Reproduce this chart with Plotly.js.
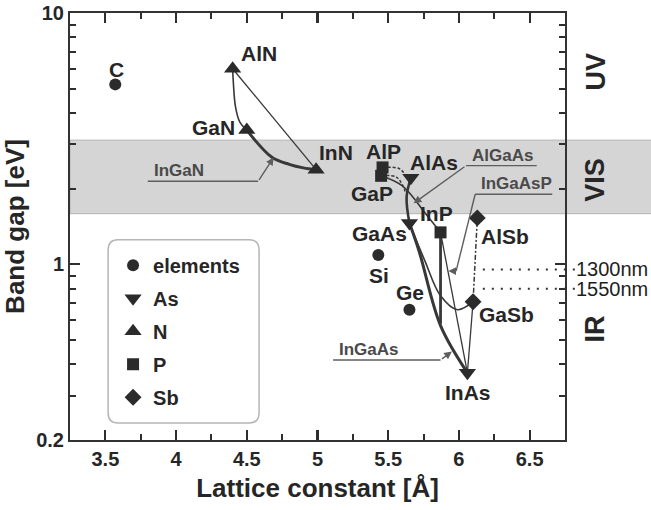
<!DOCTYPE html>
<html>
<head>
<meta charset="utf-8">
<script src="https://cdn.plot.ly/plotly-3.0.1.min.js"></script>
<style>
  html, body { margin: 0; padding: 0; background: #fff; }
  #chart { width: 651px; height: 510px; }
</style>
</head>
<body>
<div id="chart"></div>
<script>
// Band gap versus lattice constant of common semiconductors

// ---- elements and binary compounds, grouped by anion ----
const elemNames = ['C', 'Si', 'Ge'];
const elemA = [3.57, 5.43, 5.65];
const elemEg = [5.2, 1.09, 0.66];

const asNames = ['AlAs', 'GaAs', 'InAs'];
const asA = [5.66, 5.65, 6.06];
const asEg = [2.21, 1.46, 0.37];

const nNames = ['AlN', 'GaN', 'InN'];
const nA = [4.40, 4.50, 4.99];
const nEg = [6.0, 3.42, 2.38];

const pNames = ['AlP', 'GaP', 'InP'];
const pA = [5.46, 5.45, 5.87];
const pEg = [2.43, 2.25, 1.34];

const sbNames = ['AlSb', 'GaSb'];
const sbA = [6.13, 6.10];
const sbEg = [1.53, 0.71];

// ---- alloy curves: end members plus intermediate points ----
const alnInnA = [4.40, 4.99];
const alnInnEg = [6.0, 2.38];
const alnGanA = [4.40, 4.405, 4.42, 4.45, 4.50];
const alnGanEg = [6.0, 5.28, 4.24, 3.69, 3.42];
const inGaNA = [4.50, 4.68, 4.80, 4.90, 4.99];
const inGaNEg = [3.42, 2.66, 2.50, 2.42, 2.38];

const alpAlasA = [5.46, 5.58, 5.63];
const alpAlasEg = [2.43, 2.40, 2.22];
const gapGaasA = [5.45, 5.56, 5.62];
const gapGaasEg = [2.25, 2.22, 1.95];
const alGaAsA = [5.66, 5.63, 5.65];
const alGaAsEg = [2.21, 1.85, 1.46];
const gapInpA = [5.45, 5.60, 5.78, 5.87];
const gapInpEg = [2.25, 2.05, 1.55, 1.34];
const inpInasA = [5.87, 6.06];
const inpInasEg = [1.34, 0.37];
const inpMatchedA = [5.87, 5.87];
const inpMatchedEg = [1.34, 0.58];
const inGaAsA = [5.65, 5.72, 5.87, 6.06];
const inGaAsEg = [1.46, 1.12, 0.57, 0.37];
const gaasGasbA = [5.65, 5.76, 5.87, 5.99, 6.10];
const gaasGasbEg = [1.46, 1.03, 0.75, 0.66, 0.71];
const gasbInasA = [6.10, 6.06];
const gasbInasEg = [0.71, 0.37];
const alsbGasbA = [6.13, 6.10];
const alsbGasbEg = [1.53, 0.71];

// ---- spectral ranges ----
const visibleEg = [1.59, 3.12];
const telecomNames = ['1300nm', '1550nm'];
const telecomEg = [0.954, 0.80];
const regionNames = ['UV', 'VIS', 'IR'];
const regionEg = [5.85, 2.17, 0.55];

// ---- axis ticks ----
const xTicks = [3.5, 4, 4.5, 5, 5.5, 6, 6.5];
const xMinor = [3.25, 3.75, 4.25, 4.75, 5.25, 5.75, 6.25, 6.75];
const yTicks = [0.2, 1, 10];
const yTickText = ['0.2', '1', '10'];
const yMinor = [0.3, 0.4, 0.5, 0.6, 0.7, 0.8, 0.9, 2, 3, 4, 5, 6, 7, 8, 9];

const FONT = 'Liberation Sans, Arial, Helvetica, sans-serif';
const INK = '#262626';
const LINE = '#383838';
const LEAD = '#5e5e5e';
const lg = Math.log10;

function curve(x, y, width, dash) {
  return {
    x: x, y: y, type: 'scatter', mode: 'lines', showlegend: false, hoverinfo: 'skip',
    line: { color: LINE, width: width, shape: 'spline', smoothing: 1, dash: dash || 'solid' }
  };
}
function markers(name, x, y, symbol, size, labels) {
  return {
    x: x, y: y, text: labels, name: name, legendgroup: name, type: 'scatter', mode: 'markers',
    marker: { symbol: symbol, size: size, color: '#2b2b2b', line: { width: 0 } },
    hoverinfo: 'text+x+y'
  };
}

const traces = [
  curve(alnInnA, alnInnEg, 1.3),
  curve(alnGanA, alnGanEg, 1.6),
  curve(inGaNA, inGaNEg, 3),
  curve(alpAlasA, alpAlasEg, 1.5, '3px,2px'),
  curve(gapGaasA, gapGaasEg, 1.5, '3px,2px'),
  curve(alGaAsA, alGaAsEg, 2.6),
  curve(gapInpA, gapInpEg, 1.6),
  curve(inpInasA, inpInasEg, 1.3),
  curve(inpMatchedA, inpMatchedEg, 2.8),
  curve(inGaAsA, inGaAsEg, 3),
  curve(gaasGasbA, gaasGasbEg, 1.6),
  curve(gasbInasA, gasbInasEg, 1.3),
  curve(alsbGasbA, alsbGasbEg, 1.5, '2px,2px,5px,2px'),
  markers('elements', elemA, elemEg, 'circle', 12, elemNames),
  markers('As', asA, asEg, 'triangle-down', 15, asNames),
  markers('N', nA, nEg, 'triangle-up', 15, nNames),
  markers('P', pA, pEg, 'square', 12, pNames),
  markers('Sb', sbA, sbEg, 'diamond', 13, sbNames)
];

// pixel offsets of each material name from its point
const labelShift = {
  C: [1, 15], Si: [1, -21], Ge: [1, 17],
  AlAs: [23, 15], GaAs: [-30, -10], InAs: [1, -20],
  AlN: [26, 15], GaN: [-33, 3], InN: [20, 17],
  AlP: [1, 16], GaP: [-9, -18], InP: [-4, 19],
  AlSb: [28, -19], GaSb: [33, -13]
};

const annotations = [];
[[elemNames, elemA, elemEg], [asNames, asA, asEg], [nNames, nA, nEg],
 [pNames, pA, pEg], [sbNames, sbA, sbEg]].forEach(function (g) {
  g[0].forEach(function (nm, i) {
    annotations.push({
      text: nm, x: g[1][i], y: lg(g[2][i]), xref: 'x', yref: 'y', showarrow: false,
      xshift: labelShift[nm][0], yshift: labelShift[nm][1],
      font: { family: FONT, size: 21, color: INK, weight: 'bold' }
    });
  });
});

// alloy names with underline leaders and arrows
const alloyLabels = [
  { text: 'InGaN',   x0: 3.80,  x1: 4.58, eg: 2.14,  head: [4.69, 2.66], tail: [4.58, 2.14] },
  { text: 'AlGaAs',  x0: 6.05,  x1: 6.55, eg: 2.47,  head: [5.68, 1.75], tail: [6.05, 2.47] },
  { text: 'InGaAsP', x0: 6.115, x1: 6.66, eg: 1.90,  head: [5.925, 0.94], tail: [5.98, 0.94], bend: [5.98, 0.94] },
  { text: 'InGaAs',  x0: 5.11,  x1: 5.87, eg: 0.416, head: [5.95, 0.45], tail: [5.87, 0.416] }
];
const shapes = [
  // visible band
  { type: 'rect', layer: 'below', xref: 'paper', yref: 'y', x0: 0, x1: 1.25,
    y0: visibleEg[0], y1: visibleEg[1], fillcolor: '#d5d5d5', line: { color: '#b3b3b3', width: 1 } },
  // rounded legend frame
  { type: 'path', xref: 'paper', yref: 'paper', layer: 'below',
    path: 'M 0.097,0.040 L 0.362,0.040 Q 0.382,0.040 0.382,0.064 L 0.382,0.445 Q 0.382,0.469 0.362,0.469 ' +
          'L 0.097,0.469 Q 0.077,0.469 0.077,0.445 L 0.077,0.064 Q 0.077,0.040 0.097,0.040 Z',
    line: { color: '#b5b5b5', width: 1.5 }, fillcolor: 'rgba(255,255,255,0)' }
];
alloyLabels.forEach(function (a) {
  shapes.push({ type: 'line', xref: 'x', yref: 'y', x0: a.x0, x1: a.x1, y0: a.eg, y1: a.eg,
                line: { color: LEAD, width: 1.4 } });
  if (a.bend) {
    shapes.push({ type: 'line', xref: 'x', yref: 'y', x0: a.x0, y0: a.eg, x1: a.bend[0], y1: a.bend[1],
                  line: { color: LEAD, width: 1.4 } });
  }
  annotations.push({
    text: a.text, x: a.x0 + 0.03, y: lg(a.eg), xref: 'x', yref: 'y', xanchor: 'left', yanchor: 'bottom',
    showarrow: false, yshift: -1, font: { family: FONT, size: 17, color: '#4a4a4a', weight: 'bold' }
  });
  annotations.push({
    text: '', x: a.head[0], y: lg(a.head[1]), xref: 'x', yref: 'y',
    ax: a.tail[0], ay: lg(a.tail[1]), axref: 'x', ayref: 'y',
    showarrow: true, arrowhead: 2, arrowsize: 1.1, arrowwidth: 1.4, arrowcolor: LEAD, standoff: 0
  });
});

// telecom wavelengths
telecomNames.forEach(function (nm, i) {
  shapes.push({ type: 'line', xref: 'paper', yref: 'y', x0: 0.834, x1: 1.02, y0: telecomEg[i], y1: telecomEg[i],
                line: { color: '#333', width: 2, dash: '2px,7px' } });
  annotations.push({ text: nm, xref: 'paper', yref: 'y', x: 1.018, y: lg(telecomEg[i]), xanchor: 'left',
                     showarrow: false, font: { family: FONT, size: 20, color: '#1e1e1e' } });
});
// spectral region names
regionNames.forEach(function (nm, i) {
  annotations.push({ text: nm, xref: 'paper', yref: 'y', x: 1.095, y: lg(regionEg[i]), textangle: -90,
                     showarrow: false, font: { family: FONT, size: 27, color: INK, weight: 'bold' } });
});

const minorTicks = { tickmode: 'array', ticks: 'inside', ticklen: 6, tickwidth: 2, tickcolor: '#2e2e2e' };
const axisCommon = {
  showline: true, linecolor: '#333', linewidth: 2, mirror: 'ticks',
  ticks: 'inside', ticklen: 10, tickwidth: 2.2, tickcolor: '#2e2e2e',
  showgrid: false, zeroline: false,
  tickfont: { family: FONT, size: 20, color: INK, weight: 'bold' }
};

const layout = {
  width: 651, height: 510,
  margin: { l: 70, r: 86, t: 13, b: 70 },
  paper_bgcolor: '#fff', plot_bgcolor: 'rgba(0,0,0,0)',
  showlegend: true,
  legend: {
    x: 0.087, y: 0.455, xanchor: 'left', yanchor: 'top',
    bgcolor: 'rgba(0,0,0,0)', borderwidth: 0, tracegroupgap: 4, itemwidth: 30,
    font: { family: FONT, size: 20, color: INK, weight: 'bold' }
  },
  xaxis: Object.assign({}, axisCommon, {
    range: [3.25, 6.75], tickmode: 'array', tickvals: xTicks,
    minor: Object.assign({ tickvals: xMinor }, minorTicks),
    title: { text: 'Lattice constant [Å]', standoff: 10,
             font: { family: FONT, size: 26, color: INK, weight: 'bold' } }
  }),
  yaxis: Object.assign({}, axisCommon, {
    type: 'log', range: [lg(0.2), 1], tickmode: 'array', tickvals: yTicks, ticktext: yTickText,
    minor: Object.assign({ tickvals: yMinor }, minorTicks),
    title: { text: 'Band gap [eV]', standoff: 12,
             font: { family: FONT, size: 26, color: INK, weight: 'bold' } }
  }),
  shapes: shapes,
  annotations: annotations
};

Plotly.newPlot('chart', traces, layout, { displayModeBar: false, staticPlot: true });
</script>
</body>
</html>
